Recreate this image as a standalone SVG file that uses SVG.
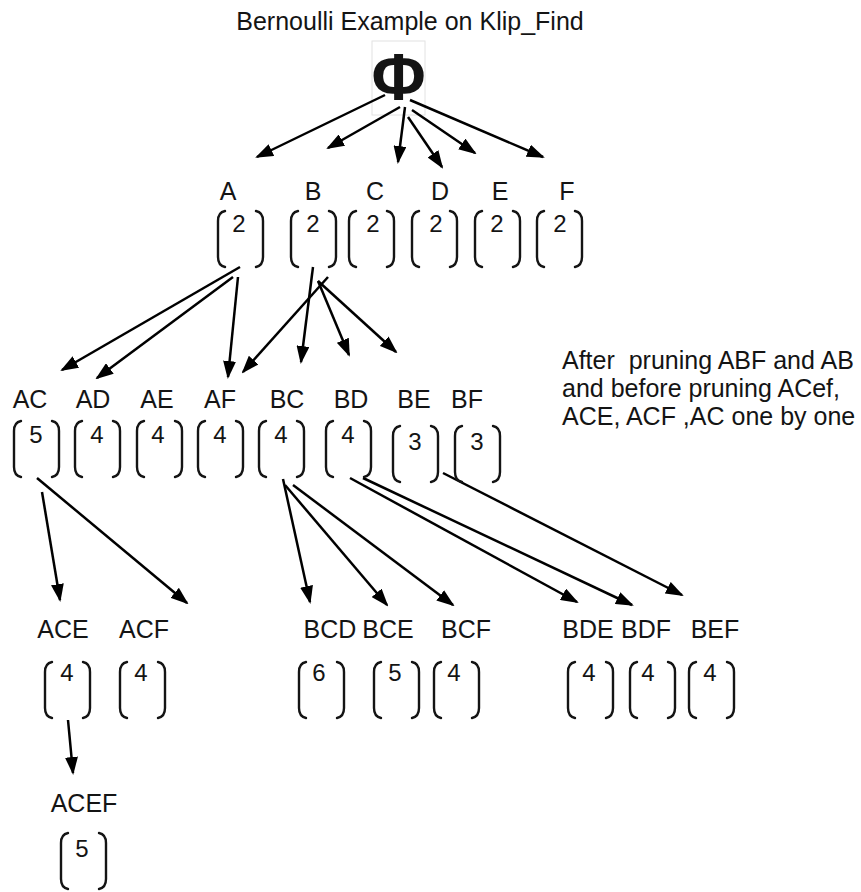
<svg xmlns="http://www.w3.org/2000/svg" xmlns:xlink="http://www.w3.org/1999/xlink" width="861" height="892" viewBox="0 0 861 892">
<style>
  text { font-family: "Liberation Sans", Arial, sans-serif; font-size: 25px; fill: #141414; }
  .lbl, .num { text-anchor: middle; }
  .num { font-size: 24px; }
  .br { fill: none; stroke: #141414; stroke-width: 2.4; stroke-linecap: round; }
  .edge { fill: none; stroke: #000; stroke-width: 2.5; marker-end: url(#arr); }
</style>
<defs>
  <marker id="arr" viewBox="0 0 18 13" refX="16" refY="6.5" markerWidth="18" markerHeight="13" markerUnits="userSpaceOnUse" orient="auto">
    <path d="M0,0 L18,6.5 L0,13 z" fill="#000"/>
  </marker>
  <path id="brk" class="br" d="M8,1 C3,2 1,5 1,11 L1,47 C1,53 3,56 8,57 M39,1 C44,2 46,5 46,11 L46,47 C46,53 44,56 39,57"/>
</defs>
<rect width="861" height="892" fill="#fff"/>
<text id="title" x="410" y="30" text-anchor="middle">Bernoulli Example on Klip_Find</text>

<g id="node-phi">
  <rect x="372" y="41" width="53" height="74" fill="none" stroke="#e2e2e2" stroke-width="1"/>
  <text x="398.5" y="100" text-anchor="middle" style="font-size:66px;font-weight:bold;">Φ</text>
</g>

<g id="connectors">
  <line class="edge" x1="385" y1="95" x2="257" y2="157"/>
  <line class="edge" x1="400" y1="107" x2="328" y2="148"/>
  <line class="edge" x1="405" y1="107" x2="398" y2="162"/>
  <line class="edge" x1="408" y1="117" x2="442" y2="167"/>
  <line class="edge" x1="412" y1="110" x2="475" y2="153"/>
  <line class="edge" x1="410" y1="100" x2="543" y2="157"/>

  <line class="edge" x1="240" y1="267" x2="62" y2="370"/>
  <line class="edge" x1="233" y1="277" x2="97" y2="378"/>
  <line class="edge" x1="238" y1="277" x2="228" y2="377"/>
  <line class="edge" x1="328" y1="277" x2="243" y2="372"/>
  <line class="edge" x1="313" y1="267" x2="301" y2="362"/>
  <line class="edge" x1="318" y1="281" x2="349" y2="355"/>
  <line class="edge" x1="318" y1="281" x2="396" y2="352"/>

  <line class="edge" x1="42" y1="492" x2="60" y2="600"/>
  <line class="edge" x1="37" y1="478" x2="187" y2="603"/>
  <line class="edge" x1="283" y1="479" x2="310" y2="602"/>
  <line class="edge" x1="285" y1="485" x2="387" y2="605"/>
  <line class="edge" x1="293" y1="485" x2="453" y2="605"/>
  <line class="edge" x1="350" y1="478" x2="577" y2="602"/>
  <line class="edge" x1="363" y1="478" x2="632" y2="605"/>
  <line class="edge" x1="443" y1="473" x2="682" y2="595"/>
  <line class="edge" x1="68" y1="720" x2="73" y2="773"/>
</g>

<!-- level 1 -->
<g id="node-A"><text class="lbl" x="228" y="200">A</text><use xlink:href="#brk" x="217" y="210"/><text class="num" x="239" y="232">2</text></g>
<g id="node-B"><text class="lbl" x="313" y="200">B</text><use xlink:href="#brk" x="290" y="210"/><text class="num" x="313" y="232">2</text></g>
<g id="node-C"><text class="lbl" x="375" y="200">C</text><use xlink:href="#brk" x="348" y="210"/><text class="num" x="373" y="232">2</text></g>
<g id="node-D"><text class="lbl" x="440" y="200">D</text><use xlink:href="#brk" x="411" y="210"/><text class="num" x="436" y="232">2</text></g>
<g id="node-E"><text class="lbl" x="500" y="200">E</text><use xlink:href="#brk" x="474" y="210"/><text class="num" x="497" y="232">2</text></g>
<g id="node-F"><text class="lbl" x="567" y="200">F</text><use xlink:href="#brk" x="536" y="210"/><text class="num" x="560" y="232">2</text></g>

<!-- level 2 -->
<g id="node-AC"><text class="lbl" x="30" y="408">AC</text><use xlink:href="#brk" x="13" y="420"/><text class="num" x="36" y="443">5</text></g>
<g id="node-AD"><text class="lbl" x="93" y="408">AD</text><use xlink:href="#brk" x="74" y="420"/><text class="num" x="97" y="443">4</text></g>
<g id="node-AE"><text class="lbl" x="157" y="408">AE</text><use xlink:href="#brk" x="136" y="420"/><text class="num" x="158" y="443">4</text></g>
<g id="node-AF"><text class="lbl" x="220" y="408">AF</text><use xlink:href="#brk" x="197" y="420"/><text class="num" x="220" y="443">4</text></g>
<g id="node-BC"><text class="lbl" x="287" y="408">BC</text><use xlink:href="#brk" x="258" y="420"/><text class="num" x="281" y="443">4</text></g>
<g id="node-BD"><text class="lbl" x="351" y="408">BD</text><use xlink:href="#brk" x="325" y="420"/><text class="num" x="348" y="443">4</text></g>
<g id="node-BE"><text class="lbl" x="414" y="408">BE</text><use xlink:href="#brk" x="392" y="425"/><text class="num" x="415" y="450">3</text></g>
<g id="node-BF"><text class="lbl" x="467" y="408">BF</text><use xlink:href="#brk" x="454" y="425"/><text class="num" x="477" y="450">3</text></g>

<!-- level 3 -->
<g id="node-ACE"><text class="lbl" x="63" y="638">ACE</text><use xlink:href="#brk" x="44" y="661"/><text class="num" x="67" y="681">4</text></g>
<g id="node-ACF"><text class="lbl" x="144" y="638">ACF</text><use xlink:href="#brk" x="119" y="661"/><text class="num" x="141" y="681">4</text></g>
<g id="node-BCD"><text class="lbl" x="330" y="638">BCD</text><use xlink:href="#brk" x="298" y="661"/><text class="num" x="319" y="681">6</text></g>
<g id="node-BCE"><text class="lbl" x="388" y="638">BCE</text><use xlink:href="#brk" x="373" y="661"/><text class="num" x="395" y="681">5</text></g>
<g id="node-BCF"><text class="lbl" x="466" y="638">BCF</text><use xlink:href="#brk" x="433" y="661"/><text class="num" x="454" y="681">4</text></g>
<g id="node-BDE"><text class="lbl" x="588" y="638">BDE</text><use xlink:href="#brk" x="567" y="661"/><text class="num" x="589" y="681">4</text></g>
<g id="node-BDF"><text class="lbl" x="646" y="638">BDF</text><use xlink:href="#brk" x="629" y="661"/><text class="num" x="648" y="681">4</text></g>
<g id="node-BEF"><text class="lbl" x="715" y="638">BEF</text><use xlink:href="#brk" x="688" y="661"/><text class="num" x="710" y="681">4</text></g>

<!-- level 4 -->
<g id="node-ACEF"><text class="lbl" x="84" y="812">ACEF</text><use xlink:href="#brk" x="60" y="832"/><text class="num" x="82" y="857">5</text></g>

<g id="note">
  <text x="562" y="369" xml:space="preserve">After  pruning ABF and AB</text>
  <text x="562" y="397">and before pruning ACef,</text>
  <text x="562" y="425">ACE, ACF ,AC one by one</text>
</g>
</svg>
